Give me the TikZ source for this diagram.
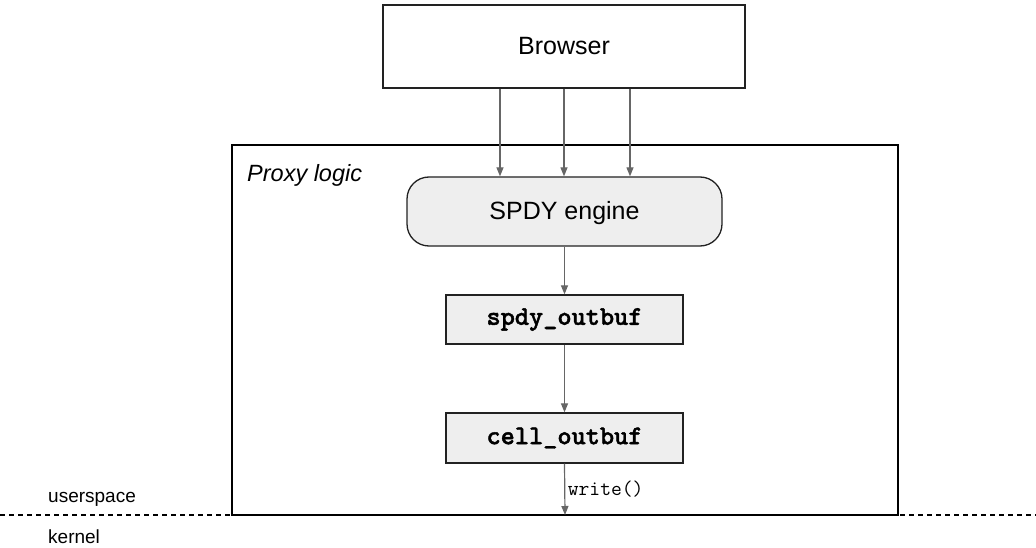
\documentclass[tikz,border=0pt]{standalone}
\usepackage{fontspec}
\setmainfont{Liberation Sans}
\newfontfamily\heavymono{lmmonolt10-bold.otf}[FakeBold=1.5]
\usetikzlibrary{arrows.meta,calc}

\definecolor{boxfill}{HTML}{EEEEEE}
\definecolor{boxline}{HTML}{222222}
\definecolor{arrowline}{HTML}{666666}

\tikzset{
  plainbox/.style={draw=boxline, line width=1.3pt, inner sep=0pt, align=center,
    font=\fontsize{25}{30}\selectfont},
  bufbox/.style={plainbox, fill=boxfill, minimum width=237pt,
    font=\fontsize{27}{30}\selectfont\heavymono},
  flow/.style={draw=arrowline, line width=1.2pt,
    -{Triangle[length=9pt,width=7pt]}},
  sidelabel/.style={inner sep=0pt, font=\fontsize{19}{23}\selectfont},
}

\begin{document}
\begin{tikzpicture}[x=1pt, y=-1pt]
  \useasboundingbox (0,0) rectangle (1036,548);

  % outer containers
  \node[plainbox, minimum width=362pt, minimum height=83pt,
    text height=18pt, text depth=1pt] (browser) at (564,46.5) {Browser};
  \node[draw=black, line width=1.3pt, minimum width=666pt, minimum height=370pt, inner sep=0pt]
    (proxy) at (565,330) {};
  \node[anchor=base west, inner sep=0pt, font=\fontsize{23.5}{28}\selectfont\itshape]
    (proxylabel) at (247,182) {Proxy logic};

  % processing stages
  \node[plainbox, fill=boxfill, rounded corners=22pt, minimum width=315pt, minimum height=69pt,
    text height=18pt, text depth=1pt] (spdy) at (564.5,211.5) {SPDY engine};
  \node[bufbox, minimum height=49pt] (spdyout) at (564.5,319.5) {spdy\_outbuf};
  \node[bufbox, minimum height=50pt] (cellout) at (564.5,438) {cell\_outbuf};

  % userspace / kernel boundary
  \coordinate (kl) at (0,515);
  \coordinate (kr) at (1036,515);
  \coordinate (wend) at (565,515);
  \draw[black, line width=1.2pt, dash pattern=on 5pt off 4pt] (kl) -- (kr);
  \node[sidelabel, anchor=base west] (user) at (48,502) {userspace};
  \node[sidelabel, anchor=base west] (kern) at (48,543) {kernel};

  % data flow
  \draw[flow] ($(browser.south)+(-64,0)$) -- ($(spdy.north)+(-64.5,0)$);
  \draw[flow] (browser.south) -- (spdy.north -| browser.south);
  \draw[flow] ($(browser.south)+(66,0)$) -- ($(spdy.north)+(65.5,0)$);
  \draw[flow] (spdy.south) -- (spdyout.north);
  \draw[flow] (spdyout.south) -- (cellout.north);
  \draw[flow] (cellout.south) -- node[midway, anchor=west, inner sep=2.5pt,
    font=\fontsize{21}{24}\selectfont\ttfamily] {write()} (wend);
\end{tikzpicture}
\end{document}
